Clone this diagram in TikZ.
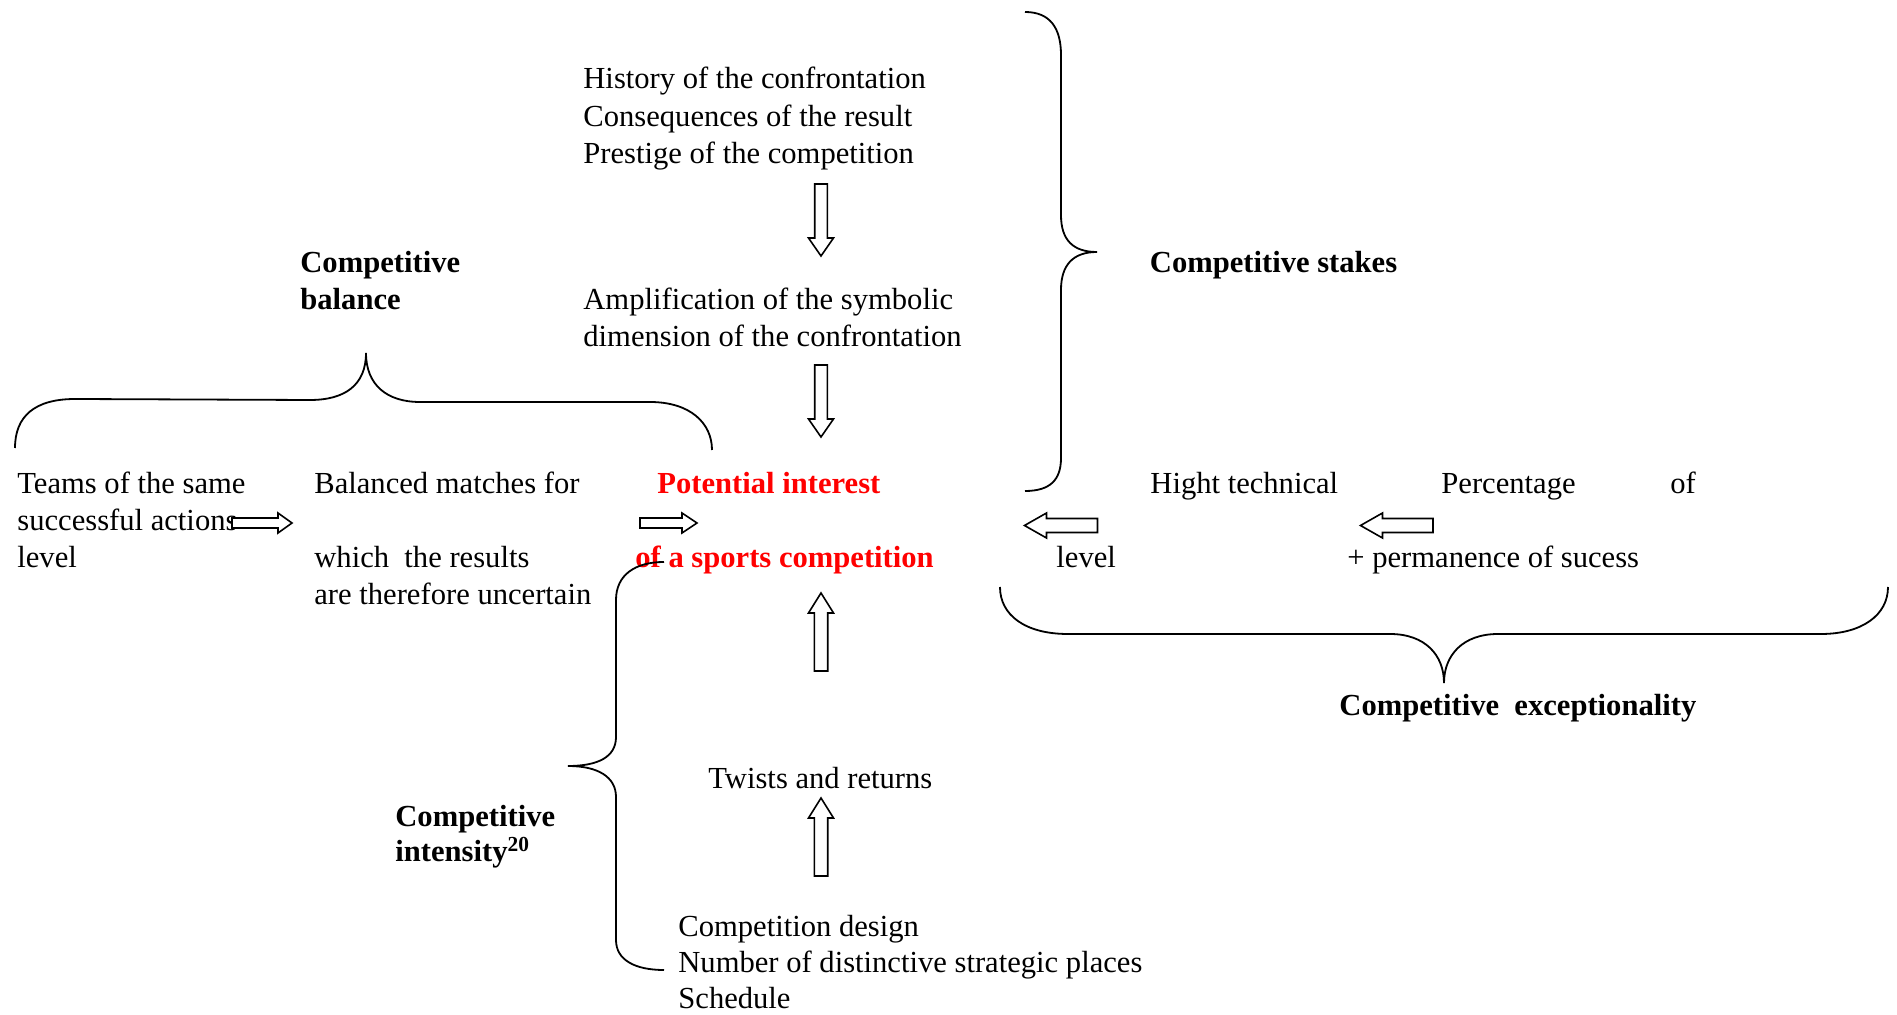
\documentclass[tikz,border=0pt]{standalone}
\usepackage{fontspec}
\setmainfont{Liberation Serif}
\definecolor{hotred}{RGB}{255,0,0}
\newcommand{\blockarrow}[7]{%
  \draw[blk, shift={(#1,#2)}, rotate=#3] (0,0) -- (-#5,#6/2) -- (-#5,#7/2) -- (-#4,#7/2) -- (-#4,-#7/2) -- (-#5,-#7/2) -- (-#5,-#6/2) -- cycle;}
\begin{document}
\begin{tikzpicture}[x=0.5pt,y=-0.5pt,
  txt/.style={anchor=base west, inner sep=0pt, font=\fontsize{15.3pt}{18pt}\selectfont},
  bld/.style={anchor=base west, inner sep=0pt, font=\fontsize{15.3pt}{18pt}\selectfont\bfseries},
  hot/.style={bld, text=hotred},
  brace/.style={draw=black, line width=0.9pt},
  blk/.style={draw=black, line width=0.8pt, fill=white, line join=miter}]
\useasboundingbox[fill=white] (0,0) rectangle (1897,1015);

% top column
\node[txt] (hist)  at (583,89)  {History of the confrontation};
\node[txt] (cons)  at (583,126.5) {Consequences of the result};
\node[txt] (prest) at (583,163.5) {Prestige of the competition};
\node[txt] (ampl)  at (583,310) {Amplification of the symbolic};
\node[txt] (dimen) at (583,347) {dimension of the confrontation};

% competitive balance
\node[bld] (cb1) at (300,273) {Competitive};
\node[bld] (cb2) at (300,310) {balance};

% stakes
\node[bld] (cs) at (1149.5,273) {Competitive stakes};

% left row
\node[txt] (teams1) at (17,494) {Teams of the same};
\node[txt] (teams2) at (17,531) {successful actions};
\node[txt] (teams3) at (17,567.5) {level};
\node[txt] (bal1) at (314,494) {Balanced matches for};
\node[txt] (bal2) at (314,567.5) {which\ \ the results};
\node[txt] (bal3) at (314,604.5) {are therefore uncertain};

% centre
\node[hot] (pot1) at (657,494) {Potential interest};
\node[hot] (pot2) at (635,568) {of a sports competition};

% right row
\node[txt] (hig1) at (1150,494) {Hight technical};
\node[txt] (hig2) at (1056,567.5) {level};
\node[txt] (perc) at (1441,494) {Percentage};
\node[txt] (pof)  at (1670,494) {of};
\node[txt] (perm) at (1347,567.5) {+ permanence of sucess};

\node[bld] (cex) at (1339,716) {Competitive\ \ exceptionality};

% bottom
\node[txt] (twist) at (708,789) {Twists and returns};
\node[bld] (ci1) at (395,827) {Competitive};
\node[bld] (ci2) at (395,862) {intensity\textsuperscript{20}};
\node[txt] (cd1) at (678,936)  {Competition design};
\node[txt] (cd2) at (678,972.5)  {Number of distinctive strategic places};
\node[txt] (cd3) at (678,1008.5) {Schedule};

% braces
\draw[brace] (15,448) .. controls (15,416) and (35,399) .. (75,399) -- (310,400)
  .. controls (345,400) and (366,385) .. (366,353)
  .. controls (366,385) and (387,402) .. (420,402) -- (650,402)
  .. controls (690,402) and (712,423) .. (712,450);
\draw[brace] (1025,12) .. controls (1050,12) and (1061,28) .. (1061,55) -- (1061,215)
  .. controls (1061,240) and (1073,252) .. (1097,252)
  .. controls (1073,252) and (1061,265) .. (1061,290) -- (1061,458)
  .. controls (1061,480) and (1050,491) .. (1025,491);
\draw[brace] (1000,587) .. controls (1000,615) and (1025,634) .. (1068,634) -- (1390,634)
  .. controls (1425,634) and (1444,655) .. (1444,683)
  .. controls (1444,655) and (1463,634) .. (1498,634) -- (1821,634)
  .. controls (1862,634) and (1888,615) .. (1888,587);
\draw[brace] (664,562) .. controls (635,562) and (616,575) .. (616,600) -- (616,737)
  .. controls (616,757) and (598,766) .. (568,766)
  .. controls (598,766) and (616,777) .. (616,797) -- (616,940)
  .. controls (616,960) and (635,970) .. (664,970);

% block arrows
\blockarrow{821}{256}{-90}{72}{18}{25}{12.6}
\blockarrow{821}{437}{-90}{72}{18}{25}{12.6}
\blockarrow{821}{593}{90}{78}{20}{25}{13.4}
\blockarrow{821}{798}{90}{78}{20}{25}{13.4}
\blockarrow{292}{523}{0}{60}{14}{20}{10}
\blockarrow{697}{523}{0}{57}{15}{20}{10}
\blockarrow{1024.5}{525.5}{180}{73}{22}{25}{14}
\blockarrow{1360.5}{525.5}{180}{72.5}{22}{25}{14}
\end{tikzpicture}
\end{document}
